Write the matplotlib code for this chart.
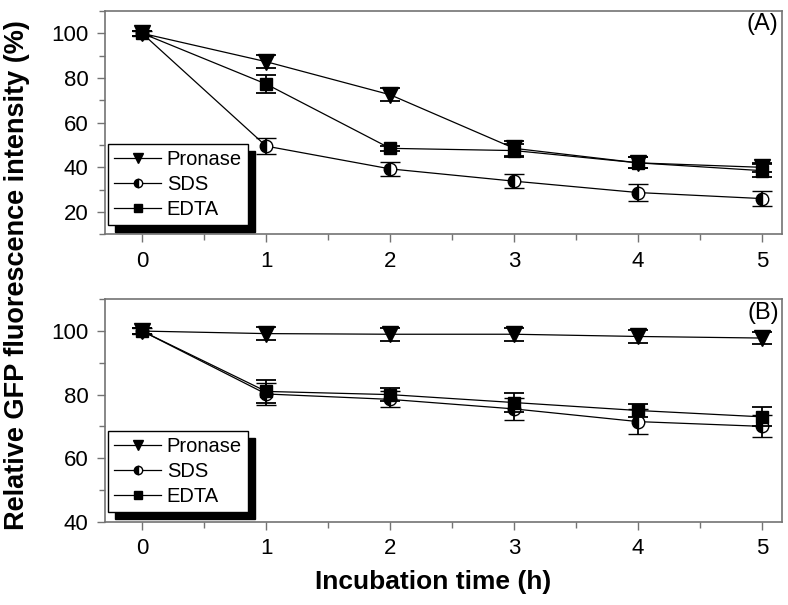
import matplotlib.pyplot as plt
from matplotlib.lines import Line2D
from matplotlib.ticker import MultipleLocator

plt.rcParams['font.family'] = ['Liberation Sans', 'DejaVu Sans']

# incubation time (h)
hours = [0, 1, 2, 3, 4, 5]

# panel A
pronase_a = [100, 87.3, 72.5, 48.5, 42.0, 40.0]
pronase_a_err = [1.0, 3.0, 3.0, 3.5, 2.5, 2.0]
sds_a = [100, 49.5, 39.3, 33.8, 28.7, 26.0]
sds_a_err = [1.0, 3.5, 3.0, 3.0, 4.0, 3.5]
edta_a = [100, 77.3, 48.5, 47.5, 42.0, 38.5]
edta_a_err = [1.0, 4.0, 1.0, 3.0, 2.5, 3.0]

# panel B
pronase_b = [100, 99.2, 99.0, 99.0, 98.3, 97.8]
pronase_b_err = [1.0, 2.0, 2.0, 2.0, 2.0, 2.0]
sds_b = [100, 80.2, 78.5, 75.5, 71.5, 70.0]
sds_b_err = [1.0, 3.5, 2.5, 3.5, 4.0, 3.5]
edta_b = [100, 81.0, 80.0, 77.5, 75.0, 73.0]
edta_b_err = [1.0, 3.5, 2.0, 3.0, 2.0, 3.0]

series_names = ['Pronase', 'SDS', 'EDTA']

spine_col = '0.45'


def draw_panel(ax, pron, pron_err, sds, sds_err, edta, edta_err, ylim, tag):
    common = dict(color='k', lw=0.9, ecolor='k', elinewidth=1.3,
                  capsize=7, capthick=1.3, mec='k')
    ax.errorbar(hours, pron, yerr=pron_err, marker='v', ms=11, mfc='k',
                zorder=3, **common)
    ax.errorbar(hours, sds, yerr=sds_err, marker='o', ms=9, mfc='k',
                fillstyle='left', markerfacecoloralt='white', mew=1.0,
                zorder=4, **common)
    ax.errorbar(hours, edta, yerr=edta_err, marker='s', ms=8, mfc='k',
                zorder=5, **common)

    ax.set_xlim(-0.3, 5.16)
    ax.set_ylim(*ylim)
    ax.xaxis.set_major_locator(MultipleLocator(1))
    ax.xaxis.set_minor_locator(MultipleLocator(0.5))
    ax.yaxis.set_major_locator(MultipleLocator(20))
    ax.yaxis.set_minor_locator(MultipleLocator(10))
    ax.tick_params(which='both', direction='out', colors=spine_col,
                   labelcolor='k', labelsize=16, width=1)
    ax.tick_params(which='major', length=6, pad=6)
    ax.tick_params(which='minor', length=4)
    for s in ax.spines.values():
        s.set_color(spine_col)
        s.set_linewidth(1.2)

    ax.text(0.995, 0.99, tag, transform=ax.transAxes, ha='right', va='top',
            fontsize=17)

    # legend shows line + small marker only (no error bars)
    handles = [
        Line2D([], [], color='k', lw=0.9, marker='v', ms=7, mfc='k', mec='k'),
        Line2D([], [], color='k', lw=0.9, marker='o', ms=6, mfc='k', mec='k',
               fillstyle='left', markerfacecoloralt='white'),
        Line2D([], [], color='k', lw=0.9, marker='s', ms=5.5, mfc='k', mec='k'),
    ]
    leg = ax.legend(handles, series_names, loc='lower left',
                    bbox_to_anchor=(0.005, 0.042), fontsize=14.5,
                    handlelength=2.3, handletextpad=0.3,
                    borderpad=0.3, labelspacing=0.3, borderaxespad=0,
                    fancybox=False, edgecolor='k', framealpha=1,
                    shadow={'ox': 5, 'oy': -5, 'facecolor': 'k',
                            'edgecolor': 'k', 'alpha': 1})
    leg.get_frame().set_linewidth(1.0)
    return leg


fig = plt.figure(figsize=(7.88, 6.05), dpi=100)
ax1 = fig.add_axes([0.1332, 0.6127, 0.8592, 0.3691])
ax2 = fig.add_axes([0.1332, 0.1377, 0.8592, 0.3676])

draw_panel(ax1, pronase_a, pronase_a_err, sds_a, sds_a_err, edta_a, edta_a_err,
           (10, 110), '(A)')
draw_panel(ax2, pronase_b, pronase_b_err, sds_b, sds_b_err, edta_b, edta_b_err,
           (40, 110), '(B)')

fig.text(0.022, 0.545, 'Relative GFP fluorescence intensity (%)', rotation=90,
         ha='center', va='center', fontsize=19.5, fontweight='bold')
fig.text(0.55, 0.038, 'Incubation time (h)', ha='center', va='center',
         fontsize=19, fontweight='bold')

fig.savefig('out.png', dpi=100)
